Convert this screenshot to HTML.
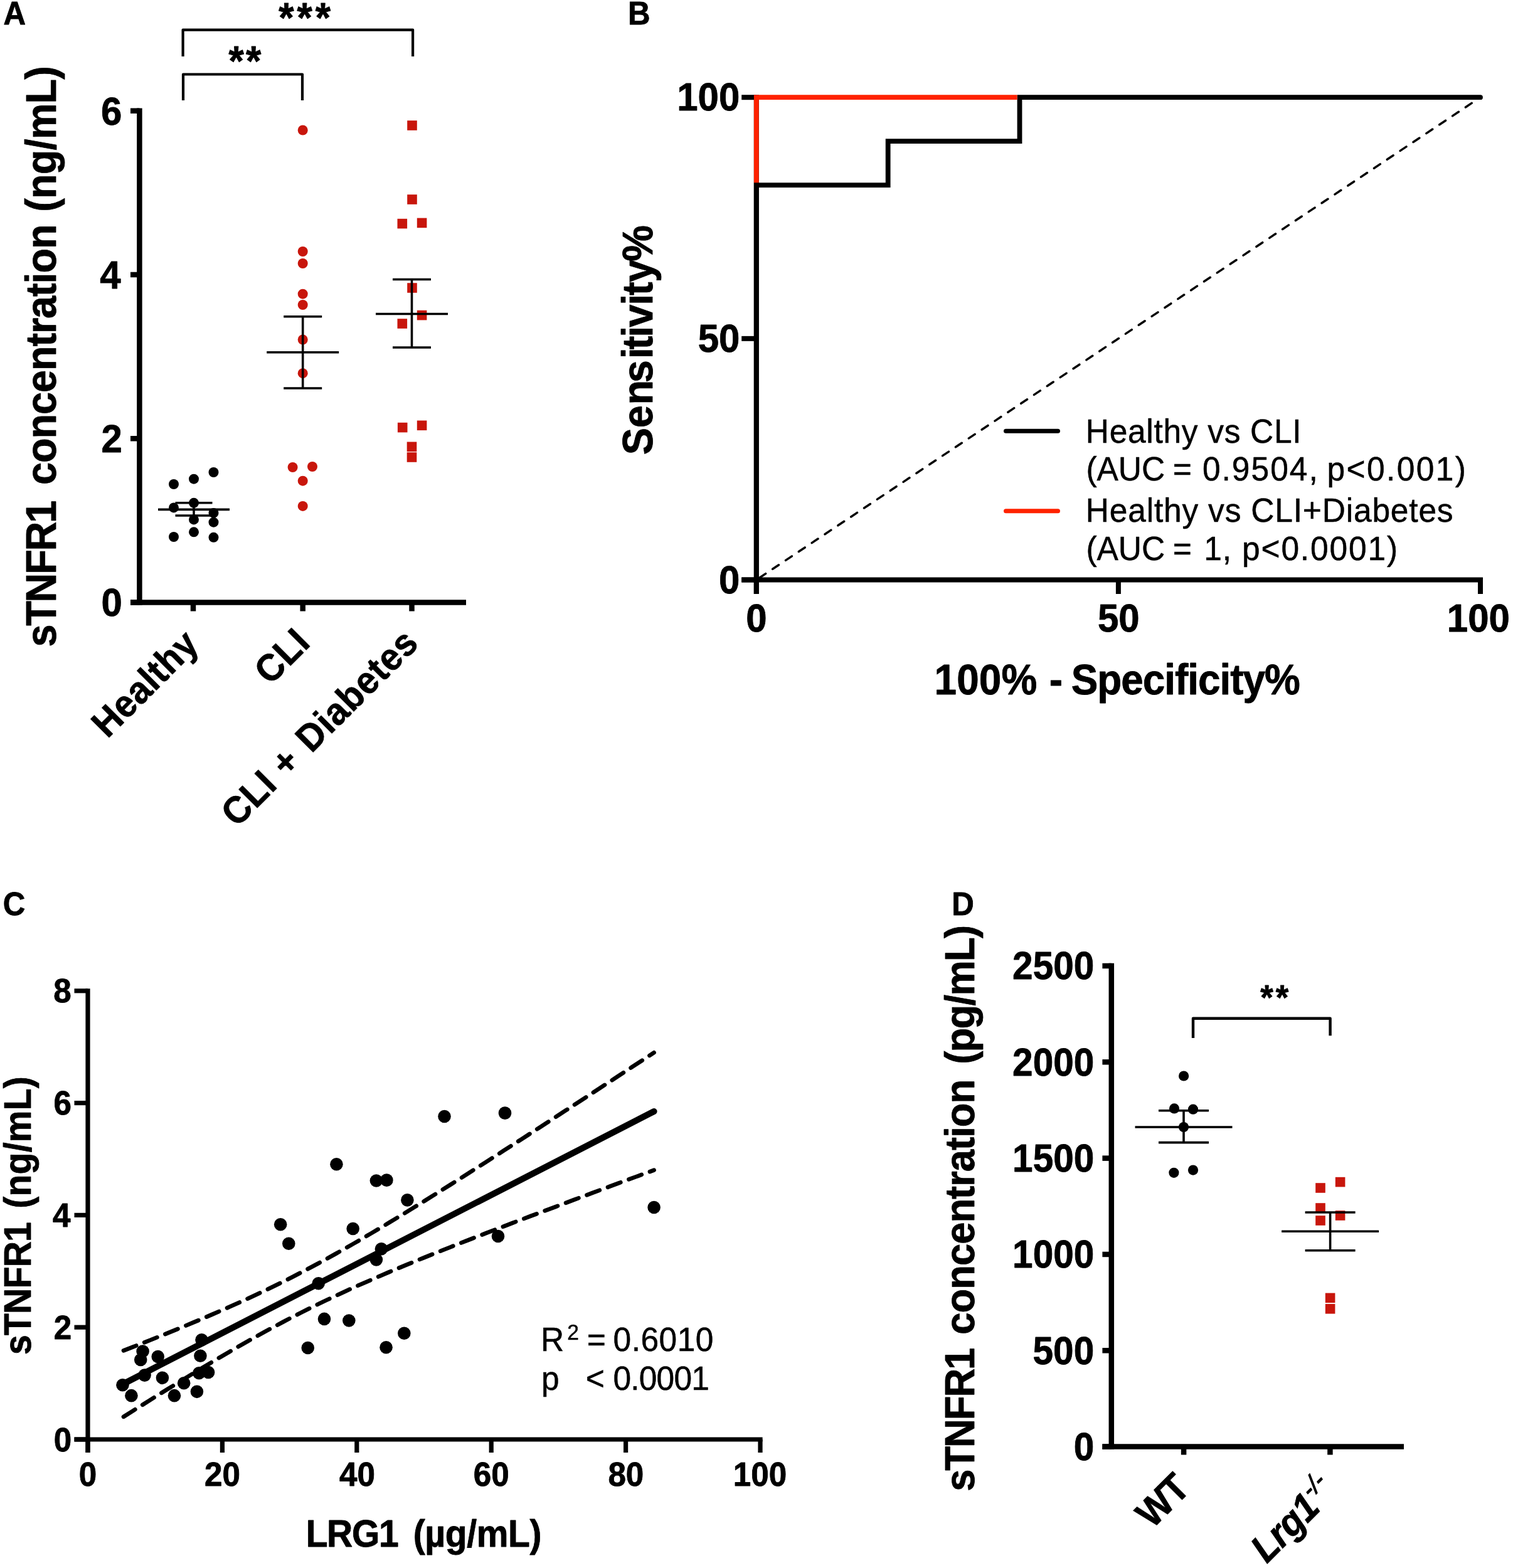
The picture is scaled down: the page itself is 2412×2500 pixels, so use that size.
<!DOCTYPE html>
<html lang="en"><head><meta charset="utf-8"><title>Figure</title>
<style>
html,body{margin:0;padding:0;background:#fff;}
body{width:2412px;height:2500px;overflow:hidden;}
svg{display:block;font-family:"Liberation Sans", Arial, Helvetica, sans-serif;}
text{fill:#000;white-space:pre;}
</style></head><body>
<svg xmlns="http://www.w3.org/2000/svg" width="2412" height="2500" viewBox="0 0 2412 2500">
<rect width="2412" height="2500" fill="#fff"/>
<text font-size="50.5" font-weight="bold" stroke="#000" stroke-width="0.8" stroke-linejoin="round" transform="translate(5.47 38.90) scale(0.975 1.035)">A</text>
<text font-size="50.5" font-weight="bold" stroke="#000" stroke-width="0.8" stroke-linejoin="round" transform="translate(1001.08 38.90) scale(0.975 1.035)">B</text>
<text font-size="50.5" font-weight="bold" stroke="#000" stroke-width="0.8" stroke-linejoin="round" transform="translate(4.73 1458.80) scale(0.975 1.035)">C</text>
<text font-size="50.5" font-weight="bold" stroke="#000" stroke-width="0.8" stroke-linejoin="round" transform="translate(1517.18 1459.00) scale(0.975 1.035)">D</text>
<path d="M222.4,172.45 V964.75" fill="none" stroke="#000" stroke-width="8.5" stroke-linecap="butt" stroke-linejoin="miter"/>
<line x1="208.00" y1="960.50" x2="743.00" y2="960.50" stroke="#000" stroke-width="8.5" stroke-linecap="butt"/>
<line x1="208.00" y1="960.50" x2="222.40" y2="960.50" stroke="#000" stroke-width="8.5" stroke-linecap="butt"/>
<text font-size="61.5" font-weight="bold" stroke="#000" stroke-width="0.8" stroke-linejoin="round" transform="translate(161.42 982.38) scale(0.975 1.035)">0</text>
<line x1="208.00" y1="699.23" x2="222.40" y2="699.23" stroke="#000" stroke-width="8.5" stroke-linecap="butt"/>
<text font-size="61.5" font-weight="bold" stroke="#000" stroke-width="0.8" stroke-linejoin="round" transform="translate(161.42 721.11) scale(0.975 1.035)">2</text>
<line x1="208.00" y1="437.97" x2="222.40" y2="437.97" stroke="#000" stroke-width="8.5" stroke-linecap="butt"/>
<text font-size="61.5" font-weight="bold" stroke="#000" stroke-width="0.8" stroke-linejoin="round" transform="translate(159.32 459.85) scale(0.975 1.035)">4</text>
<line x1="208.00" y1="176.70" x2="222.40" y2="176.70" stroke="#000" stroke-width="8.5" stroke-linecap="butt"/>
<text font-size="61.5" font-weight="bold" stroke="#000" stroke-width="0.8" stroke-linejoin="round" transform="translate(161.12 198.58) scale(0.975 1.035)">6</text>
<line x1="308.00" y1="960.50" x2="308.00" y2="974.50" stroke="#000" stroke-width="8.5" stroke-linecap="butt"/>
<line x1="482.70" y1="960.50" x2="482.70" y2="974.50" stroke="#000" stroke-width="8.5" stroke-linecap="butt"/>
<line x1="656.50" y1="960.50" x2="656.50" y2="974.50" stroke="#000" stroke-width="8.5" stroke-linecap="butt"/>
<text font-size="66.5" font-weight="bold" letter-spacing="-2.353" stroke="#000" stroke-width="0.8" stroke-linejoin="round" transform="translate(89.00 1031.47) rotate(-90) scale(0.975 1.035)">sTNFR1</text>
<text font-size="66.5" font-weight="bold" letter-spacing="-1.119" stroke="#000" stroke-width="0.8" stroke-linejoin="round" transform="translate(89.00 772.99) rotate(-90) scale(0.975 1.035)">concentration</text>
<text font-size="66.5" font-weight="bold" letter-spacing="-0.845" stroke="#000" stroke-width="0.8" stroke-linejoin="round" transform="translate(89.00 337.84) rotate(-90) scale(0.975 1.035)">(ng/mL)</text>
<text font-size="58.5" font-weight="bold" letter-spacing="0.615" stroke="#000" stroke-width="0.8" stroke-linejoin="round" transform="translate(171.28 1178.52) rotate(-45) scale(0.975 1.035)">Healthy</text>
<text font-size="58.5" font-weight="bold" letter-spacing="0.718" stroke="#000" stroke-width="0.8" stroke-linejoin="round" transform="translate(430.82 1093.68) rotate(-45) scale(0.975 1.035)">CLI</text>
<text font-size="58.5" font-weight="bold" letter-spacing="1.026" stroke="#000" stroke-width="0.8" stroke-linejoin="round" transform="translate(377.71 1320.59) rotate(-45) scale(0.975 1.035)">CLI</text>
<text font-size="58.5" font-weight="bold" letter-spacing="1.026" stroke="#000" stroke-width="0.8" stroke-linejoin="round" transform="translate(457.42 1240.88) rotate(-45) scale(0.975 1.035)">+</text>
<text font-size="58.5" font-weight="bold" letter-spacing="1.026" stroke="#000" stroke-width="0.8" stroke-linejoin="round" transform="translate(496.42 1201.88) rotate(-45) scale(0.975 1.035)">Diabetes</text>
<path d="M291.6,90 V47.6 H658.1 V90" fill="none" stroke="#000" stroke-width="4.2" stroke-linecap="butt" stroke-linejoin="round"/>
<path d="M292,160 V118.5 H482 V160" fill="none" stroke="#000" stroke-width="4.2" stroke-linecap="butt" stroke-linejoin="round"/>
<text font-size="64" font-weight="bold" letter-spacing="5.056" stroke="#000" stroke-width="0.8" stroke-linejoin="round" transform="translate(444.24 50.90) scale(0.975 1.035)">***</text>
<text font-size="64" font-weight="bold" letter-spacing="3.323" stroke="#000" stroke-width="0.8" stroke-linejoin="round" transform="translate(364.44 120.20) scale(0.975 1.035)">**</text>
<circle cx="277.00" cy="772.00" r="8" fill="#000"/>
<circle cx="309.00" cy="763.70" r="8" fill="#000"/>
<circle cx="340.50" cy="753.00" r="8" fill="#000"/>
<circle cx="277.00" cy="809.40" r="8" fill="#000"/>
<circle cx="309.00" cy="801.80" r="8" fill="#000"/>
<circle cx="340.50" cy="817.90" r="8" fill="#000"/>
<circle cx="309.00" cy="828.40" r="8" fill="#000"/>
<circle cx="340.50" cy="832.70" r="8" fill="#000"/>
<circle cx="277.00" cy="856.00" r="8" fill="#000"/>
<circle cx="309.00" cy="848.30" r="8" fill="#000"/>
<circle cx="340.50" cy="856.80" r="8" fill="#000"/>
<line x1="252.00" y1="812.40" x2="366.00" y2="812.40" stroke="#000" stroke-width="3.6" stroke-linecap="butt"/>
<line x1="309.00" y1="801.80" x2="309.00" y2="822.00" stroke="#000" stroke-width="3.6" stroke-linecap="butt"/>
<line x1="279.50" y1="801.80" x2="338.50" y2="801.80" stroke="#000" stroke-width="3.6" stroke-linecap="butt"/>
<line x1="279.50" y1="822.00" x2="338.50" y2="822.00" stroke="#000" stroke-width="3.6" stroke-linecap="butt"/>
<circle cx="482.70" cy="207.50" r="8" fill="#c8160c"/>
<circle cx="482.70" cy="401.00" r="8" fill="#c8160c"/>
<circle cx="482.70" cy="420.00" r="8" fill="#c8160c"/>
<circle cx="482.70" cy="468.70" r="8" fill="#c8160c"/>
<circle cx="482.70" cy="486.00" r="8" fill="#c8160c"/>
<circle cx="482.70" cy="541.50" r="8" fill="#c8160c"/>
<circle cx="482.70" cy="595.20" r="8" fill="#c8160c"/>
<circle cx="466.60" cy="745.00" r="8" fill="#c8160c"/>
<circle cx="498.00" cy="744.00" r="8" fill="#c8160c"/>
<circle cx="482.70" cy="766.70" r="8" fill="#c8160c"/>
<circle cx="482.70" cy="806.90" r="8" fill="#c8160c"/>
<line x1="425.20" y1="561.80" x2="540.20" y2="561.80" stroke="#000" stroke-width="3.6" stroke-linecap="butt"/>
<line x1="482.70" y1="504.70" x2="482.70" y2="619.00" stroke="#000" stroke-width="3.6" stroke-linecap="butt"/>
<line x1="452.20" y1="504.70" x2="513.20" y2="504.70" stroke="#000" stroke-width="3.6" stroke-linecap="butt"/>
<line x1="452.20" y1="619.00" x2="513.20" y2="619.00" stroke="#000" stroke-width="3.6" stroke-linecap="butt"/>
<rect x="649.20" y="192.20" width="15.6" height="15.6" fill="#c8160c"/>
<rect x="649.20" y="310.20" width="15.6" height="15.6" fill="#c8160c"/>
<rect x="633.50" y="348.80" width="15.6" height="15.6" fill="#c8160c"/>
<rect x="664.80" y="347.60" width="15.6" height="15.6" fill="#c8160c"/>
<rect x="649.20" y="451.20" width="15.6" height="15.6" fill="#c8160c"/>
<rect x="664.80" y="494.80" width="15.6" height="15.6" fill="#c8160c"/>
<rect x="633.50" y="508.20" width="15.6" height="15.6" fill="#c8160c"/>
<rect x="633.90" y="673.80" width="15.6" height="15.6" fill="#c8160c"/>
<rect x="664.80" y="670.50" width="15.6" height="15.6" fill="#c8160c"/>
<rect x="648.70" y="704.50" width="15.6" height="15.6" fill="#c8160c"/>
<rect x="648.70" y="721.20" width="15.6" height="15.6" fill="#c8160c"/>
<line x1="599.00" y1="500.50" x2="714.00" y2="500.50" stroke="#000" stroke-width="3.6" stroke-linecap="butt"/>
<line x1="656.50" y1="445.50" x2="656.50" y2="554.00" stroke="#000" stroke-width="3.6" stroke-linecap="butt"/>
<line x1="626.00" y1="445.50" x2="687.00" y2="445.50" stroke="#000" stroke-width="3.6" stroke-linecap="butt"/>
<line x1="626.00" y1="554.00" x2="687.00" y2="554.00" stroke="#000" stroke-width="3.6" stroke-linecap="butt"/>
<line x1="1205.80" y1="924.50" x2="2360.00" y2="155.20" stroke="#000" stroke-width="3.5" stroke-linecap="round" stroke-dasharray="11.8 13.25" stroke-dashoffset="-6"/>
<line x1="1205.80" y1="151.20" x2="1205.80" y2="947.00" stroke="#000" stroke-width="8" stroke-linecap="butt"/>
<line x1="1182.20" y1="924.50" x2="2364.00" y2="924.50" stroke="#000" stroke-width="8" stroke-linecap="butt"/>
<line x1="1182.20" y1="924.50" x2="1205.80" y2="924.50" stroke="#000" stroke-width="8" stroke-linecap="butt"/>
<text font-size="61.5" font-weight="bold" stroke="#000" stroke-width="0.8" stroke-linejoin="round" transform="translate(1145.92 945.58) scale(0.975 1.035)">0</text>
<line x1="1205.80" y1="924.50" x2="1205.80" y2="947.00" stroke="#000" stroke-width="8" stroke-linecap="butt"/>
<text font-size="61.5" font-weight="bold" stroke="#000" stroke-width="0.8" stroke-linejoin="round" transform="translate(1189.16 1007.30) scale(0.975 1.035)">0</text>
<line x1="1182.20" y1="539.85" x2="1205.80" y2="539.85" stroke="#000" stroke-width="8" stroke-linecap="butt"/>
<text font-size="61.5" font-weight="bold" stroke="#000" stroke-width="0.8" stroke-linejoin="round" transform="translate(1112.64 560.93) scale(0.975 1.035)">50</text>
<line x1="1782.90" y1="924.50" x2="1782.90" y2="947.00" stroke="#000" stroke-width="8" stroke-linecap="butt"/>
<text font-size="61.5" font-weight="bold" stroke="#000" stroke-width="0.8" stroke-linejoin="round" transform="translate(1749.92 1007.30) scale(0.975 1.035)">50</text>
<line x1="1182.20" y1="155.20" x2="1205.80" y2="155.20" stroke="#000" stroke-width="8" stroke-linecap="butt"/>
<text font-size="61.5" font-weight="bold" stroke="#000" stroke-width="0.8" stroke-linejoin="round" transform="translate(1079.21 176.28) scale(0.975 1.035)">100</text>
<line x1="2360.00" y1="924.50" x2="2360.00" y2="947.00" stroke="#000" stroke-width="8" stroke-linecap="butt"/>
<text font-size="61.5" font-weight="bold" stroke="#000" stroke-width="0.8" stroke-linejoin="round" transform="translate(2306.83 1007.30) scale(0.975 1.035)">100</text>
<path d="M1205.8,924.5 V295.0727272727273 H1415.6545454545453 V225.13636363636363 H1625.509090909091 V155.20000000000005 H2360.0" fill="none" stroke="#000" stroke-width="7.8" stroke-linecap="round" stroke-linejoin="miter"/>
<path d="M1205.8,291.17272727272734 V155.20000000000005 H1621.6090909090908" fill="none" stroke="#ff2200" stroke-width="7.8" stroke-linecap="butt" stroke-linejoin="miter"/>
<text x="-743.96 -699.63 -662.09 -625.88 -586.87 -571.62 -551.64 -535.15 -499.23 -483.16 -461.51 -427.46" y="0" font-size="66.5" font-weight="bold" stroke="#000" stroke-width="0.8" stroke-linejoin="round" transform="translate(1040.40 0) rotate(-90) scale(0.975 1.035)">Sensitivity%</text>
<text font-size="65.5" font-weight="bold" letter-spacing="0.212" stroke="#000" stroke-width="0.8" stroke-linejoin="round" transform="translate(1489.41 1107.00) scale(0.975 1.035)">100%</text>
<text font-size="65.5" font-weight="bold" stroke="#000" stroke-width="0.8" stroke-linejoin="round" transform="translate(1672.85 1107.00) scale(0.975 1.035)">-</text>
<text font-size="65.5" font-weight="bold" letter-spacing="-1.038" stroke="#000" stroke-width="0.8" stroke-linejoin="round" transform="translate(1707.78 1107.00) scale(0.975 1.035)">Specificity%</text>
<line x1="1603.50" y1="687.30" x2="1686.50" y2="687.30" stroke="#000" stroke-width="7" stroke-linecap="round"/>
<line x1="1603.50" y1="814.80" x2="1686.50" y2="814.80" stroke="#ff2200" stroke-width="7" stroke-linecap="round"/>
<text font-size="51.5" letter-spacing="0.695" stroke="#000" stroke-width="0.5" stroke-linejoin="round" transform="translate(1730.80 705.50) scale(1 1.035)">Healthy vs CLI</text>
<text font-size="51.5" letter-spacing="-0.046" stroke="#000" stroke-width="0.5" stroke-linejoin="round" transform="translate(1731.43 765.50) scale(1 1.035)">(AUC</text>
<text font-size="51.5" stroke="#000" stroke-width="0.5" stroke-linejoin="round" transform="translate(1869.77 765.50) scale(1 1.035)">=</text>
<text font-size="51.5" letter-spacing="2.024" stroke="#000" stroke-width="0.5" stroke-linejoin="round" transform="translate(1916.89 765.50) scale(1 1.035)">0.9504,</text>
<text font-size="51.5" letter-spacing="2.393" stroke="#000" stroke-width="0.5" stroke-linejoin="round" transform="translate(2115.50 765.50) scale(1 1.035)">p&lt;0.001)</text>
<text font-size="51.5" letter-spacing="0.808" stroke="#000" stroke-width="0.5" stroke-linejoin="round" transform="translate(1730.80 832.10) scale(1 1.035)">Healthy vs CLI+Diabetes</text>
<text font-size="51.5" letter-spacing="-0.046" stroke="#000" stroke-width="0.5" stroke-linejoin="round" transform="translate(1731.43 893.20) scale(1 1.035)">(AUC</text>
<text font-size="51.5" stroke="#000" stroke-width="0.5" stroke-linejoin="round" transform="translate(1869.77 893.20) scale(1 1.035)">=</text>
<text font-size="51.5" letter-spacing="1.000" stroke="#000" stroke-width="0.5" stroke-linejoin="round" transform="translate(1919.21 893.20) scale(1 1.035)">1,</text>
<text font-size="51.5" letter-spacing="1.843" stroke="#000" stroke-width="0.5" stroke-linejoin="round" transform="translate(1980.00 893.20) scale(1 1.035)">p&lt;0.0001)</text>
<line x1="140.00" y1="1576.20" x2="140.00" y2="2316.00" stroke="#000" stroke-width="7.2" stroke-linecap="butt"/>
<line x1="118.50" y1="2295.00" x2="1215.60" y2="2295.00" stroke="#000" stroke-width="7.2" stroke-linecap="butt"/>
<line x1="118.50" y1="2295.00" x2="140.00" y2="2295.00" stroke="#000" stroke-width="7.2" stroke-linecap="butt"/>
<text font-size="52.5" font-weight="bold" stroke="#000" stroke-width="0.8" stroke-linejoin="round" transform="translate(85.74 2313.68) scale(0.975 1.035)">0</text>
<line x1="118.50" y1="2116.20" x2="140.00" y2="2116.20" stroke="#000" stroke-width="7.2" stroke-linecap="butt"/>
<text font-size="52.5" font-weight="bold" stroke="#000" stroke-width="0.8" stroke-linejoin="round" transform="translate(85.74 2134.88) scale(0.975 1.035)">2</text>
<line x1="118.50" y1="1937.40" x2="140.00" y2="1937.40" stroke="#000" stroke-width="7.2" stroke-linecap="butt"/>
<text font-size="52.5" font-weight="bold" stroke="#000" stroke-width="0.8" stroke-linejoin="round" transform="translate(83.95 1956.08) scale(0.975 1.035)">4</text>
<line x1="118.50" y1="1758.60" x2="140.00" y2="1758.60" stroke="#000" stroke-width="7.2" stroke-linecap="butt"/>
<text font-size="52.5" font-weight="bold" stroke="#000" stroke-width="0.8" stroke-linejoin="round" transform="translate(85.48 1777.28) scale(0.975 1.035)">6</text>
<line x1="118.50" y1="1579.80" x2="140.00" y2="1579.80" stroke="#000" stroke-width="7.2" stroke-linecap="butt"/>
<text font-size="52.5" font-weight="bold" stroke="#000" stroke-width="0.8" stroke-linejoin="round" transform="translate(85.23 1598.48) scale(0.975 1.035)">8</text>
<line x1="140.00" y1="2295.00" x2="140.00" y2="2316.00" stroke="#000" stroke-width="7.2" stroke-linecap="butt"/>
<text font-size="52.5" font-weight="bold" stroke="#000" stroke-width="0.8" stroke-linejoin="round" transform="translate(125.80 2369.30) scale(0.975 1.035)">0</text>
<line x1="354.40" y1="2295.00" x2="354.40" y2="2316.00" stroke="#000" stroke-width="7.2" stroke-linecap="butt"/>
<text font-size="52.5" font-weight="bold" stroke="#000" stroke-width="0.8" stroke-linejoin="round" transform="translate(326.12 2369.30) scale(0.975 1.035)">20</text>
<line x1="568.80" y1="2295.00" x2="568.80" y2="2316.00" stroke="#000" stroke-width="7.2" stroke-linecap="butt"/>
<text font-size="52.5" font-weight="bold" stroke="#000" stroke-width="0.8" stroke-linejoin="round" transform="translate(541.03 2369.30) scale(0.975 1.035)">40</text>
<line x1="783.20" y1="2295.00" x2="783.20" y2="2316.00" stroke="#000" stroke-width="7.2" stroke-linecap="butt"/>
<text font-size="52.5" font-weight="bold" stroke="#000" stroke-width="0.8" stroke-linejoin="round" transform="translate(754.85 2369.30) scale(0.975 1.035)">60</text>
<line x1="997.60" y1="2295.00" x2="997.60" y2="2316.00" stroke="#000" stroke-width="7.2" stroke-linecap="butt"/>
<text font-size="52.5" font-weight="bold" stroke="#000" stroke-width="0.8" stroke-linejoin="round" transform="translate(969.38 2369.30) scale(0.975 1.035)">80</text>
<line x1="1212.00" y1="2295.00" x2="1212.00" y2="2316.00" stroke="#000" stroke-width="7.2" stroke-linecap="butt"/>
<text font-size="52.5" font-weight="bold" stroke="#000" stroke-width="0.8" stroke-linejoin="round" transform="translate(1168.75 2369.30) scale(0.975 1.035)">100</text>
<text font-size="58.5" font-weight="bold" letter-spacing="-0.737" stroke="#000" stroke-width="0.8" stroke-linejoin="round" transform="translate(48.60 2160.00) rotate(-90) scale(0.975 1.035)">sTNFR1</text>
<text font-size="58.5" font-weight="bold" letter-spacing="0.267" stroke="#000" stroke-width="0.8" stroke-linejoin="round" transform="translate(48.60 1926.75) rotate(-90) scale(0.975 1.035)">(ng/mL)</text>
<text font-size="58.5" font-weight="bold" letter-spacing="-1.397" stroke="#000" stroke-width="0.8" stroke-linejoin="round" transform="translate(487.65 2466.20) scale(0.975 1.035)">LRG1</text>
<text font-size="58.5" font-weight="bold" letter-spacing="-0.366" stroke="#000" stroke-width="0.8" stroke-linejoin="round" transform="translate(658.65 2466.20) scale(0.975 1.035)">(µg/mL)</text>
<circle cx="536.44" cy="1856.27" r="10.3" fill="#000"/>
<circle cx="599.89" cy="1882.50" r="10.3" fill="#000"/>
<circle cx="616.39" cy="1881.65" r="10.3" fill="#000"/>
<circle cx="649.39" cy="1913.38" r="10.3" fill="#000"/>
<circle cx="447.17" cy="1952.30" r="10.3" fill="#000"/>
<circle cx="562.67" cy="1959.07" r="10.3" fill="#000"/>
<circle cx="460.29" cy="1982.76" r="10.3" fill="#000"/>
<circle cx="607.93" cy="1991.22" r="10.3" fill="#000"/>
<circle cx="599.89" cy="2008.57" r="10.3" fill="#000"/>
<circle cx="507.67" cy="2046.22" r="10.3" fill="#000"/>
<circle cx="516.98" cy="2102.91" r="10.3" fill="#000"/>
<circle cx="556.32" cy="2105.45" r="10.3" fill="#000"/>
<circle cx="644.32" cy="2125.75" r="10.3" fill="#000"/>
<circle cx="490.75" cy="2149.02" r="10.3" fill="#000"/>
<circle cx="615.55" cy="2148.18" r="10.3" fill="#000"/>
<circle cx="321.52" cy="2136.33" r="10.3" fill="#000"/>
<circle cx="227.60" cy="2154.52" r="10.3" fill="#000"/>
<circle cx="224.22" cy="2168.06" r="10.3" fill="#000"/>
<circle cx="251.72" cy="2162.98" r="10.3" fill="#000"/>
<circle cx="319.41" cy="2161.71" r="10.3" fill="#000"/>
<circle cx="230.57" cy="2192.60" r="10.3" fill="#000"/>
<circle cx="258.91" cy="2196.83" r="10.3" fill="#000"/>
<circle cx="317.29" cy="2189.21" r="10.3" fill="#000"/>
<circle cx="332.10" cy="2187.94" r="10.3" fill="#000"/>
<circle cx="195.45" cy="2208.25" r="10.3" fill="#000"/>
<circle cx="293.18" cy="2205.29" r="10.3" fill="#000"/>
<circle cx="209.41" cy="2225.17" r="10.3" fill="#000"/>
<circle cx="313.91" cy="2218.83" r="10.3" fill="#000"/>
<circle cx="277.95" cy="2225.17" r="10.3" fill="#000"/>
<circle cx="708.50" cy="1780.00" r="10.3" fill="#000"/>
<circle cx="805.00" cy="1774.60" r="10.3" fill="#000"/>
<circle cx="1042.60" cy="1925.00" r="10.3" fill="#000"/>
<circle cx="794.00" cy="1971.00" r="10.3" fill="#000"/>
<line x1="197.00" y1="2206.18" x2="1042.60" y2="1771.93" stroke="#000" stroke-width="10" stroke-linecap="round"/>
<path d="M197.0,2153.4 L211.1,2147.9 L225.2,2142.3 L239.3,2136.7 L253.4,2131.1 L267.5,2125.4 L281.6,2119.6 L295.7,2113.8 L309.7,2107.9 L323.8,2102.0 L337.9,2095.9 L352.0,2089.8 L366.1,2083.6 L380.2,2077.3 L394.3,2070.8 L408.4,2064.3 L422.5,2057.6 L436.6,2050.8 L450.7,2043.8 L464.8,2036.7 L478.9,2029.4 L493.0,2022.0 L507.1,2014.5 L521.1,2006.8 L535.2,1999.0 L549.3,1991.0 L563.4,1983.0 L577.5,1974.8 L591.6,1966.5 L605.7,1958.1 L619.8,1949.7 L633.9,1941.1 L648.0,1932.5 L662.1,1923.8 L676.2,1915.1 L690.3,1906.3 L704.4,1897.5 L718.5,1888.6 L732.5,1879.7 L746.6,1870.7 L760.7,1861.7 L774.8,1852.7 L788.9,1843.7 L803.0,1834.6 L817.1,1825.5 L831.2,1816.4 L845.3,1807.3 L859.4,1798.2 L873.5,1789.0 L887.6,1779.8 L901.7,1770.6 L915.8,1761.4 L929.9,1752.2 L943.9,1743.0 L958.0,1733.8 L972.1,1724.6 L986.2,1715.3 L1000.3,1706.1 L1014.4,1696.8 L1028.5,1687.5 L1042.6,1678.3" fill="none" stroke="#000" stroke-width="6.6" stroke-linecap="round" stroke-linejoin="round" stroke-dasharray="21.7 14"/>
<path d="M197.0,2258.9 L211.1,2250.0 L225.2,2241.1 L239.3,2232.2 L253.4,2223.4 L267.5,2214.6 L281.6,2205.9 L295.7,2197.2 L309.7,2188.6 L323.8,2180.1 L337.9,2171.7 L352.0,2163.3 L366.1,2155.1 L380.2,2146.9 L394.3,2138.9 L408.4,2130.9 L422.5,2123.2 L436.6,2115.5 L450.7,2108.0 L464.8,2100.6 L478.9,2093.4 L493.0,2086.3 L507.1,2079.4 L521.1,2072.6 L535.2,2066.0 L549.3,2059.4 L563.4,2053.0 L577.5,2046.7 L591.6,2040.6 L605.7,2034.5 L619.8,2028.4 L633.9,2022.5 L648.0,2016.6 L662.1,2010.9 L676.2,2005.1 L690.3,1999.4 L704.4,1993.8 L718.5,1988.2 L732.5,1982.6 L746.6,1977.1 L760.7,1971.6 L774.8,1966.2 L788.9,1960.7 L803.0,1955.3 L817.1,1949.9 L831.2,1944.6 L845.3,1939.2 L859.4,1933.9 L873.5,1928.6 L887.6,1923.3 L901.7,1918.0 L915.8,1912.7 L929.9,1907.4 L943.9,1902.2 L958.0,1896.9 L972.1,1891.7 L986.2,1886.4 L1000.3,1881.2 L1014.4,1876.0 L1028.5,1870.8 L1042.6,1865.6" fill="none" stroke="#000" stroke-width="6.6" stroke-linecap="round" stroke-linejoin="round" stroke-dasharray="21.7 14"/>
<text font-size="51.5" stroke="#000" stroke-width="0.5" stroke-linejoin="round" transform="translate(862.00 2154.00) scale(1 1.035)">R</text>
<text font-size="33.5" stroke="#000" stroke-width="0.5" stroke-linejoin="round" transform="translate(904.18 2136.00) scale(1 1.035)">2</text>
<text font-size="51.5" stroke="#000" stroke-width="0.5" stroke-linejoin="round" transform="translate(935.67 2154.00) scale(1 1.035)">=</text>
<text font-size="51.5" letter-spacing="0.486" stroke="#000" stroke-width="0.5" stroke-linejoin="round" transform="translate(977.59 2154.00) scale(1 1.035)">0.6010</text>
<text font-size="51.5" stroke="#000" stroke-width="0.5" stroke-linejoin="round" transform="translate(862.90 2216.20) scale(1 1.035)">p</text>
<text font-size="51.5" stroke="#000" stroke-width="0.5" stroke-linejoin="round" transform="translate(933.67 2216.20) scale(1 1.035)">&lt;</text>
<text font-size="51.5" letter-spacing="-0.851" stroke="#000" stroke-width="0.5" stroke-linejoin="round" transform="translate(977.59 2216.20) scale(1 1.035)">0.0001</text>
<line x1="1771.80" y1="1535.75" x2="1771.80" y2="2310.85" stroke="#000" stroke-width="8.5" stroke-linecap="butt"/>
<line x1="1757.40" y1="2306.60" x2="2238.00" y2="2306.60" stroke="#000" stroke-width="8.5" stroke-linecap="butt"/>
<line x1="1757.40" y1="2306.60" x2="1771.80" y2="2306.60" stroke="#000" stroke-width="8.5" stroke-linecap="butt"/>
<text font-size="60" font-weight="bold" stroke="#000" stroke-width="0.8" stroke-linejoin="round" transform="translate(1711.67 2327.95) scale(0.975 1.035)">0</text>
<line x1="1757.40" y1="2153.28" x2="1771.80" y2="2153.28" stroke="#000" stroke-width="8.5" stroke-linecap="butt"/>
<text font-size="60" font-weight="bold" stroke="#000" stroke-width="0.8" stroke-linejoin="round" transform="translate(1646.59 2174.63) scale(0.975 1.035)">500</text>
<line x1="1757.40" y1="1999.96" x2="1771.80" y2="1999.96" stroke="#000" stroke-width="8.5" stroke-linecap="butt"/>
<text font-size="60" font-weight="bold" stroke="#000" stroke-width="0.8" stroke-linejoin="round" transform="translate(1614.12 2021.31) scale(0.975 1.035)">1000</text>
<line x1="1757.40" y1="1846.64" x2="1771.80" y2="1846.64" stroke="#000" stroke-width="8.5" stroke-linecap="butt"/>
<text font-size="60" font-weight="bold" stroke="#000" stroke-width="0.8" stroke-linejoin="round" transform="translate(1614.12 1867.99) scale(0.975 1.035)">1500</text>
<line x1="1757.40" y1="1693.32" x2="1771.80" y2="1693.32" stroke="#000" stroke-width="8.5" stroke-linecap="butt"/>
<text font-size="60" font-weight="bold" stroke="#000" stroke-width="0.8" stroke-linejoin="round" transform="translate(1614.12 1714.67) scale(0.975 1.035)">2000</text>
<line x1="1757.40" y1="1540.00" x2="1771.80" y2="1540.00" stroke="#000" stroke-width="8.5" stroke-linecap="butt"/>
<text font-size="60" font-weight="bold" stroke="#000" stroke-width="0.8" stroke-linejoin="round" transform="translate(1614.12 1561.35) scale(0.975 1.035)">2500</text>
<line x1="1887.10" y1="2306.60" x2="1887.10" y2="2319.50" stroke="#000" stroke-width="8.5" stroke-linecap="butt"/>
<line x1="2120.40" y1="2306.60" x2="2120.40" y2="2319.50" stroke="#000" stroke-width="8.5" stroke-linecap="butt"/>
<text font-size="65" font-weight="bold" letter-spacing="-2.100" stroke="#000" stroke-width="0.8" stroke-linejoin="round" transform="translate(1553.30 2377.82) rotate(-90) scale(0.975 1.035)">sTNFR1</text>
<text font-size="65" font-weight="bold" letter-spacing="-1.040" stroke="#000" stroke-width="0.8" stroke-linejoin="round" transform="translate(1553.30 2127.64) rotate(-90) scale(0.975 1.035)">concentration</text>
<text font-size="65" font-weight="bold" letter-spacing="-1.783" stroke="#000" stroke-width="0.8" stroke-linejoin="round" transform="translate(1553.30 1696.77) rotate(-90) scale(0.975 1.035)">(pg/mL)</text>
<text font-size="60" font-weight="bold" letter-spacing="-1.538" stroke="#000" stroke-width="0.8" stroke-linejoin="round" transform="translate(1836.87 2438.63) rotate(-45) scale(0.975 1.035)">WT</text>
<text font-size="60" font-weight="bold" font-style="italic" letter-spacing="-1.026" stroke="#000" stroke-width="0.8" stroke-linejoin="round" transform="translate(2019.45 2494.05) rotate(-45) scale(0.975 1.035)">Lrg1</text>
<text font-size="40" font-style="italic" stroke="#000" stroke-width="1.2" stroke-linejoin="round" transform="translate(2090.00 2390.00) rotate(-45) scale(0.975 1.035)">-/-</text>
<path d="M1902,1655 V1623.8 H2120.6 V1651.2" fill="none" stroke="#000" stroke-width="4.4" stroke-linecap="butt" stroke-linejoin="round"/>
<text font-size="54" font-weight="bold" letter-spacing="4.201" stroke="#000" stroke-width="0.8" stroke-linejoin="round" transform="translate(2009.17 1609.30) scale(0.975 1.035)">**</text>
<circle cx="1887.10" cy="1715.50" r="8.1" fill="#000"/>
<circle cx="1872.00" cy="1767.40" r="8.1" fill="#000"/>
<circle cx="1902.00" cy="1768.70" r="8.1" fill="#000"/>
<circle cx="1887.00" cy="1797.00" r="8.1" fill="#000"/>
<circle cx="1871.40" cy="1869.80" r="8.1" fill="#000"/>
<circle cx="1902.00" cy="1865.60" r="8.1" fill="#000"/>
<line x1="1809.50" y1="1797.00" x2="1964.50" y2="1797.00" stroke="#000" stroke-width="3.6" stroke-linecap="butt"/>
<line x1="1887.00" y1="1770.80" x2="1887.00" y2="1821.60" stroke="#000" stroke-width="3.6" stroke-linecap="butt"/>
<line x1="1847.00" y1="1770.80" x2="1927.00" y2="1770.80" stroke="#000" stroke-width="3.6" stroke-linecap="butt"/>
<line x1="1847.00" y1="1821.60" x2="1927.00" y2="1821.60" stroke="#000" stroke-width="3.6" stroke-linecap="butt"/>
<rect x="2097.20" y="1886.20" width="15.6" height="15.6" fill="#c8160c"/>
<rect x="2128.80" y="1876.80" width="15.6" height="15.6" fill="#c8160c"/>
<rect x="2097.20" y="1918.20" width="15.6" height="15.6" fill="#c8160c"/>
<rect x="2128.80" y="1930.20" width="15.6" height="15.6" fill="#c8160c"/>
<rect x="2097.20" y="1938.20" width="15.6" height="15.6" fill="#c8160c"/>
<rect x="2112.80" y="2061.60" width="15.6" height="15.6" fill="#c8160c"/>
<rect x="2112.80" y="2079.00" width="15.6" height="15.6" fill="#c8160c"/>
<line x1="2043.10" y1="1963.30" x2="2198.10" y2="1963.30" stroke="#000" stroke-width="3.6" stroke-linecap="butt"/>
<line x1="2120.60" y1="1933.00" x2="2120.60" y2="1993.70" stroke="#000" stroke-width="3.6" stroke-linecap="butt"/>
<line x1="2080.60" y1="1933.00" x2="2160.60" y2="1933.00" stroke="#000" stroke-width="3.6" stroke-linecap="butt"/>
<line x1="2080.60" y1="1993.70" x2="2160.60" y2="1993.70" stroke="#000" stroke-width="3.6" stroke-linecap="butt"/>
</svg>
</body></html>
